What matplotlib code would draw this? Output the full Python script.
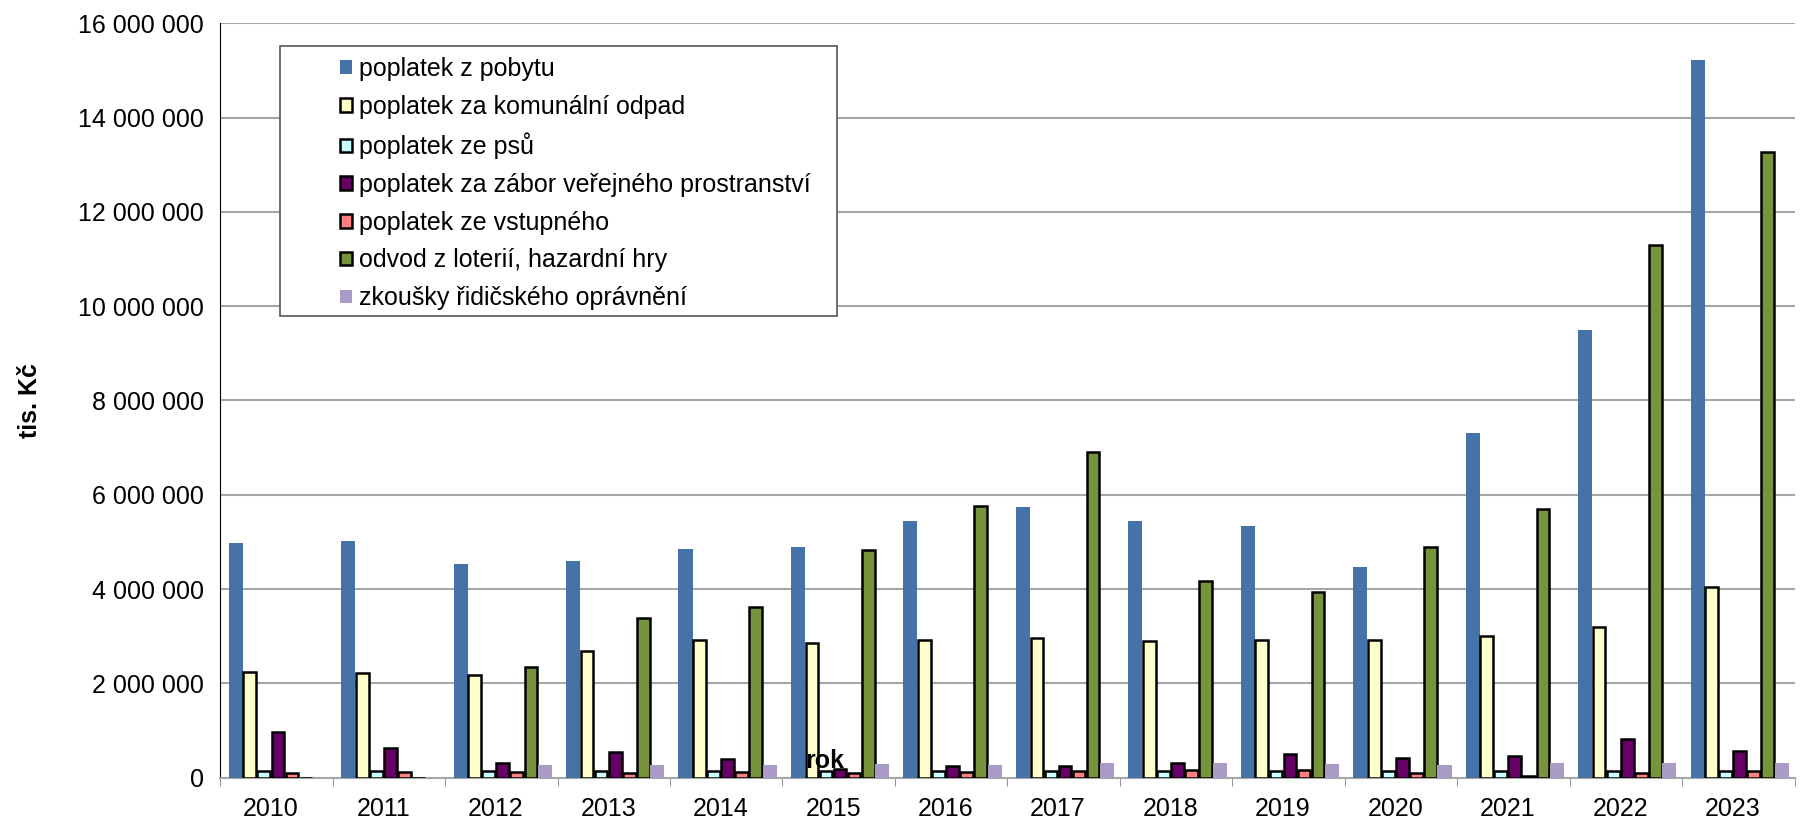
import matplotlib.pyplot as plt
import numpy as np
from matplotlib.patches import Rectangle
from matplotlib.ticker import FuncFormatter

plt.rcParams['font.family'] = ['Liberation Sans', 'DejaVu Sans']

years = ['2010', '2011', '2012', '2013', '2014', '2015', '2016',
         '2017', '2018', '2019', '2020', '2021', '2022', '2023']

pobyt = [4970000, 5020000, 4530000, 4600000, 4850000, 4900000, 5450000,
         5750000, 5450000, 5330000, 4460000, 7320000, 9500000, 15220000]
odpad = [2250000, 2230000, 2180000, 2690000, 2910000, 2860000, 2910000,
         2960000, 2890000, 2910000, 2910000, 3000000, 3200000, 4050000]
psy = [150000, 150000, 150000, 150000, 150000, 150000, 150000,
       150000, 150000, 150000, 150000, 150000, 150000, 150000]
zabor = [970000, 630000, 320000, 550000, 400000, 180000, 250000,
         250000, 320000, 500000, 420000, 450000, 830000, 570000]
vstupne = [100000, 120000, 120000, 100000, 120000, 100000, 120000,
           150000, 170000, 160000, 100000, 40000, 100000, 150000]
loterie = [0, 0, 2350000, 3390000, 3610000, 4820000, 5770000,
           6910000, 4170000, 3930000, 4900000, 5700000, 11300000, 13260000]
ridici = [0, 0, 270000, 280000, 280000, 300000, 270000,
          310000, 320000, 300000, 280000, 320000, 320000, 320000]

series_names = ['poplatek z pobytu', 'poplatek za komunální odpad', 'poplatek ze psů',
                'poplatek za zábor veřejného prostranství', 'poplatek ze vstupného',
                'odvod z loterií, hazardní hry', 'zkoušky řidičského oprávnění']
series_values = [pobyt, odpad, psy, zabor, vstupne, loterie, ridici]
colors = ['#4572A7', '#FFFFCC', '#CCFFFF', '#660066', '#FF8080', '#77933C', '#A99BC6']
edges = [None, 'black', 'black', 'black', 'black', 'black', None]

fig = plt.figure(figsize=(18.2, 8.3), dpi=100)
ax = fig.add_axes([0.121, 0.063, 0.865, 0.909])

x = np.arange(len(years))
w = 1.0 / 8
for i, (name, vals) in enumerate(zip(series_names, series_values)):
    if edges[i] is None:
        ax.bar(x + (i - 2.9) * w, vals, width=w, color=colors[i], label=name,
               linewidth=0, zorder=3)
    else:
        ax.bar(x + (i - 2.9) * w, vals, width=w * 0.9, color=colors[i], label=name,
               edgecolor=edges[i], linewidth=1.8, zorder=3)

ax.set_xlim(-0.5, len(years) - 0.5)
ax.set_ylim(0, 16000000)
ax.set_yticks(np.arange(0, 16000001, 2000000))
ax.yaxis.set_major_formatter(FuncFormatter(lambda v, p: f'{int(v):,}'.replace(',', ' ')))
ax.yaxis.grid(True, color='#A6A6A6', linewidth=1.5, zorder=0)
ax.set_xticks(x - 0.05)
ax.set_xticklabels(years)
ax.set_xticks(np.arange(-0.5, len(years)), minor=True)
ax.tick_params(axis='x', which='major', length=0, labelsize=18, pad=14)
ax.tick_params(axis='x', which='minor', length=6, color='#808080')
ax.tick_params(axis='y', length=0, labelsize=18, pad=12)

for s in ['top', 'right']:
    ax.spines[s].set_visible(False)
ax.spines['left'].set_color('black')
ax.spines['bottom'].set_color('#A6A6A6')
ax.spines['bottom'].set_linewidth(1.5)

ax.set_ylabel('tis. Kč', fontsize=18, fontweight='bold')
ax.yaxis.set_label_coords(-0.113, 0.5)
ax.text(0.384, 0.0225, 'rok', transform=ax.transAxes, fontsize=18,
        fontweight='bold', ha='center', va='center', zorder=5)

# legend frame
frame = Rectangle((0.038, 0.612), 0.354, 0.358, transform=ax.transAxes,
                  facecolor='white', edgecolor='#555555', linewidth=1.2, zorder=6)
ax.add_patch(frame)
leg = ax.legend(loc='upper left', bbox_to_anchor=(0.062, 0.985), frameon=False,
                fontsize=18, handlelength=0.45, handleheight=0.45, handletextpad=0.3,
                labelspacing=0.55)
leg.set_zorder(7)

plt.savefig('out.png')
plt.close()
